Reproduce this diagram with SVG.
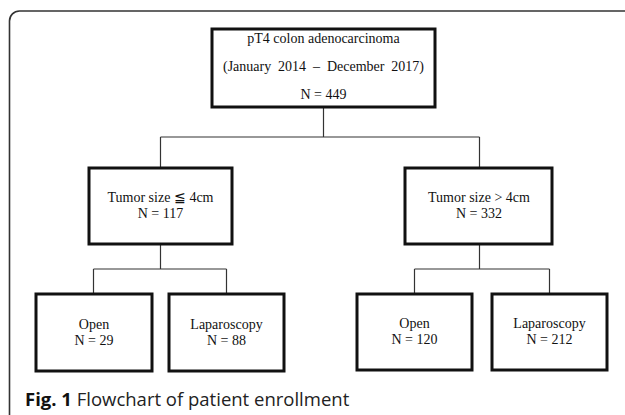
<svg xmlns="http://www.w3.org/2000/svg" width="625" height="415" viewBox="0 0 625 415">
<style>
.box{fill:#fff;stroke:#111;stroke-width:3}
.t{font-family:"Liberation Serif","Times New Roman",serif;font-size:14px;fill:#111;text-anchor:middle}
.conn{fill:none;stroke:#333;stroke-width:1.2}
.frame{fill:none;stroke:#333;stroke-width:1.6}
.cap{font-family:"Open Sans","Noto Sans",sans-serif;font-size:18.5px;fill:#222}
</style>
<rect width="625" height="415" fill="#fff"/>
<path class="frame" d="M9.5 415 V21 A10 10 0 0 1 19.5 11 H625"/>
<g id="connectors">
<path class="conn" d="M323.5 107 V137 M160.5 137 H479.5 M160.5 137 V168 M479.5 137 V168"/>
<path class="conn" d="M160.5 244 V269 M93.5 269 H226.5 M93.5 269 V294 M226.5 269 V294"/>
<path class="conn" d="M479.5 244 V269 M414.5 269 H549.5 M414.5 269 V294 M549.5 269 V294"/>
</g>
<g id="root">
<rect class="box" x="212" y="29" width="223" height="78"/>
<text class="t" x="323.5" y="43">pT4 colon adenocarcinoma</text>
<text class="t" x="323.5" y="71" word-spacing="3.4">(January 2014 – December 2017)</text>
<text class="t" x="323.5" y="99">N = 449</text>
</g>
<g id="small">
<rect class="box" x="89" y="168" width="143" height="76"/>
<text class="t" x="160.5" y="202">Tumor size ≦ 4cm</text>
<text class="t" x="160.5" y="218">N = 117</text>
</g>
<g id="large">
<rect class="box" x="405" y="168" width="147" height="76"/>
<text class="t" x="479" y="202">Tumor size &gt; 4cm</text>
<text class="t" x="479" y="218">N = 332</text>
</g>
<g id="small-open">
<rect class="box" x="36" y="294" width="116" height="77"/>
<text class="t" x="94" y="329">Open</text>
<text class="t" x="94" y="345">N = 29</text>
</g>
<g id="small-lap">
<rect class="box" x="169" y="294" width="115" height="77"/>
<text class="t" x="226.5" y="329">Laparoscopy</text>
<text class="t" x="226.5" y="345">N = 88</text>
</g>
<g id="large-open">
<rect class="box" x="357" y="294" width="115" height="76"/>
<text class="t" x="414.5" y="328">Open</text>
<text class="t" x="414.5" y="344">N = 120</text>
</g>
<g id="large-lap">
<rect class="box" x="492" y="294" width="115" height="76"/>
<text class="t" x="549.5" y="328">Laparoscopy</text>
<text class="t" x="549.5" y="344">N = 212</text>
</g>
<text class="cap" x="25" y="406"><tspan font-weight="bold" fill="#111">Fig. 1</tspan> Flowchart of patient enrollment</text>
</svg>
